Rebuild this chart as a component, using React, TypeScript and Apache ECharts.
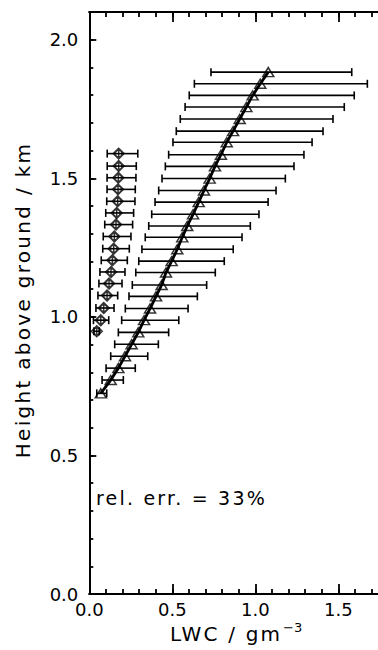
import React, { useEffect, useRef } from "react";
import * as echarts from "echarts";

// Triangles (with line) — height (km), LWC (g m^-3), error bar ends
const triHeight = [1.883, 1.841, 1.799, 1.757, 1.714, 1.670, 1.630, 1.585, 1.543, 1.499, 1.456, 1.414, 1.370, 1.328, 1.287, 1.244, 1.201, 1.160, 1.115, 1.074, 1.030, 0.988, 0.944, 0.901, 0.858, 0.815, 0.772, 0.724];
const triLWC = [1.078, 1.030, 0.984, 0.946, 0.906, 0.866, 0.828, 0.793, 0.757, 0.725, 0.691, 0.659, 0.625, 0.590, 0.560, 0.530, 0.496, 0.462, 0.436, 0.402, 0.366, 0.330, 0.295, 0.255, 0.215, 0.175, 0.129, 0.069];
const triLow = [0.733, 0.633, 0.602, 0.577, 0.548, 0.524, 0.504, 0.478, 0.458, 0.438, 0.418, 0.396, 0.376, 0.358, 0.337, 0.317, 0.298, 0.280, 0.259, 0.239, 0.217, 0.195, 0.175, 0.153, 0.129, 0.101, 0.077, 0.045];
const triHigh = [1.581, 1.675, 1.596, 1.536, 1.468, 1.408, 1.342, 1.293, 1.233, 1.181, 1.125, 1.077, 1.022, 0.970, 0.920, 0.867, 0.813, 0.759, 0.707, 0.651, 0.595, 0.539, 0.478, 0.416, 0.352, 0.277, 0.205, 0.105];

// Diamonds
const diaHeight = [1.589, 1.544, 1.502, 1.460, 1.417, 1.375, 1.333, 1.290, 1.246, 1.204, 1.162, 1.120, 1.077, 1.032, 0.988, 0.948];
const diaLWC = [0.177, 0.177, 0.175, 0.173, 0.171, 0.165, 0.161, 0.151, 0.147, 0.139, 0.131, 0.119, 0.107, 0.087, 0.069, 0.045];
const diaLow = [0.108, 0.108, 0.107, 0.107, 0.105, 0.099, 0.093, 0.084, 0.081, 0.072, 0.064, 0.058, 0.052, 0.040, 0.025, 0.028];
const diaHigh = [0.292, 0.283, 0.281, 0.277, 0.275, 0.267, 0.261, 0.251, 0.241, 0.229, 0.215, 0.197, 0.171, 0.149, 0.117, 0.060];

const X_MIN = 0;
const X_MAX = 1.8;
const Y_MIN = 0;
const Y_MAX = 2.1;
const MAJOR = 0.5;
const MINOR = 0.1;

const Y_TITLE = "Height above ground / km";
const X_TITLE = "LWC / gm";
const X_TITLE_SUP = "\u22123";
const REL_ERR = "rel. err. = 33%";

const FONT = '"DejaVu Sans", sans-serif';

export default function App() {
  const ref = useRef<HTMLDivElement>(null);

  useEffect(() => {
    const el = ref.current!;
    const chart = echarts.init(el, null, { renderer: "svg" });

    const label = (show: boolean, margin: number) =>
      show
        ? {
            show: true,
            color: "#000",
            fontFamily: FONT,
            fontSize: 18,
            margin,
            showMaxLabel: false,
            formatter: (v: number) => v.toFixed(1),
          }
        : { show: false };

    const mk = (position: string, min: number, max: number, interval: number, len: number, showLabel: boolean, margin: number) => ({
      type: "value",
      position,
      min,
      max,
      interval,
      axisLine: { show: true, onZero: false, lineStyle: { color: "#000", width: 2 } },
      axisTick: { show: true, inside: true, length: len, lineStyle: { color: "#000", width: 1.8 } },
      axisLabel: label(showLabel, margin),
      splitLine: { show: false },
    });

    const errRender = (params: any, api: any) => {
      const y = api.value(2);
      const a = api.coord([api.value(0), y]);
      const b = api.coord([api.value(1), y]);
      const h = 4;
      const style = { stroke: "#000", lineWidth: 1.6, fill: null };
      return {
        type: "group",
        children: [
          { type: "line", shape: { x1: a[0], y1: a[1], x2: b[0], y2: b[1] }, style },
          { type: "line", shape: { x1: a[0], y1: a[1] - h, x2: a[0], y2: a[1] + h }, style },
          { type: "line", shape: { x1: b[0], y1: b[1] - h, x2: b[0], y2: b[1] + h }, style },
        ],
      };
    };

    const hollow = { color: "rgba(255,255,255,0)", borderColor: "#000", borderWidth: 1.4 };

    chart.setOption({
      animation: false,
      backgroundColor: "#fff",
      grid: { left: 89.3, top: 12, right: 11.9, bottom: 56, containLabel: false },
      xAxis: [
        mk("bottom", X_MIN, X_MAX, MAJOR, 10, true, 6),
        mk("bottom", X_MIN, X_MAX, MINOR, 5, false, 6),
        mk("top", X_MIN, X_MAX, MAJOR, 10, false, 6),
        mk("top", X_MIN, X_MAX, MINOR, 5, false, 6),
      ],
      yAxis: [
        mk("left", Y_MIN, Y_MAX, MAJOR, 7, true, 11),
        mk("left", Y_MIN, Y_MAX, MINOR, 4, false, 11),
      ],
      series: [
        {
          type: "custom",
          xAxisIndex: 0,
          yAxisIndex: 0,
          renderItem: errRender,
          data: triLow.map((lo, i) => [lo, triHigh[i], triHeight[i]]),
          encode: { x: [0, 1], y: 2 },
          silent: true,
          z: 2,
        },
        {
          type: "custom",
          xAxisIndex: 0,
          yAxisIndex: 0,
          renderItem: errRender,
          data: diaLow.map((lo, i) => [lo, diaHigh[i], diaHeight[i]]),
          encode: { x: [0, 1], y: 2 },
          silent: true,
          z: 2,
        },
        {
          type: "line",
          xAxisIndex: 0,
          yAxisIndex: 0,
          data: triLWC.map((x, i) => [x, triHeight[i]]),
          symbol: "none",
          lineStyle: { color: "#000", width: 2.8 },
          silent: true,
          z: 3,
        },
        {
          type: "scatter",
          xAxisIndex: 0,
          yAxisIndex: 0,
          data: triLWC.map((x, i) => [x, triHeight[i]]),
          symbol: "triangle",
          symbolSize: [11, 9],
          itemStyle: { ...hollow, borderWidth: 1.5 },
          silent: true,
          z: 4,
        },
        {
          type: "scatter",
          xAxisIndex: 0,
          yAxisIndex: 0,
          data: diaLWC.map((x, i) => [x, diaHeight[i]]),
          symbol: "path://M5,0L10,5L5,10L0,5Z M5,0L5,10 M8,5A3,3,0,1,1,2,5A3,3,0,1,1,8,5Z",
          symbolSize: 11,
          itemStyle: hollow,
          silent: true,
          z: 4,
        },
      ],
      graphic: [
        {
          type: "text",
          x: 23,
          y: 300,
          rotation: Math.PI / 2,
          style: { text: Y_TITLE, fontSize: 20, fontFamily: FONT, fill: "#000", align: "center", verticalAlign: "middle" },
        },
        {
          type: "text",
          x: 170,
          y: 634,
          style: { text: X_TITLE, fontSize: 20, fontFamily: FONT, fill: "#000", align: "left", verticalAlign: "middle" },
        },
        {
          type: "text",
          x: 283,
          y: 627,
          style: { text: X_TITLE_SUP, fontSize: 13, fontFamily: FONT, fill: "#000", align: "left", verticalAlign: "middle" },
        },
        {
          type: "text",
          x: 96,
          y: 498,
          style: { text: REL_ERR, fontSize: 19, fontFamily: FONT, fill: "#000", align: "left", verticalAlign: "middle" },
        },
      ],
    });

    const SPACED: Record<string, number> = { [Y_TITLE]: 2.3, [X_TITLE]: 2.2, [REL_ERR]: 2.2 };
    const applySpacing = () => {
      el.querySelectorAll("text").forEach((t) => {
        const s = (t.textContent || "").trim();
        if (SPACED[s] !== undefined) (t as SVGTextElement).style.letterSpacing = SPACED[s] + "px";
      });
    };
    applySpacing();
    chart.on("finished", applySpacing);

    return () => {
      chart.dispose();
    };
  }, []);

  return (
    <div
      style={{
        position: "fixed",
        left: 0,
        top: 0,
        width: 378,
        height: 650,
        overflow: "hidden",
        background: "#fff",
      }}
    >
      <div ref={ref} style={{ width: 400, height: 650 }} />
    </div>
  );
}
